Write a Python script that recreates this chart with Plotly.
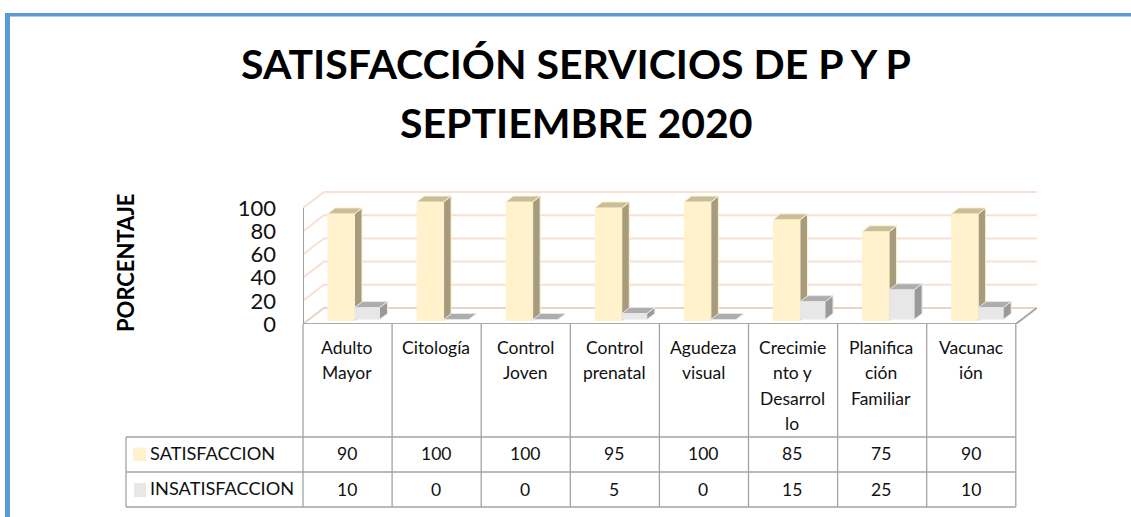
import plotly.graph_objects as go

categories = ["Adulto\nMayor", "Citología", "Control\nJoven", "Control\nprenatal", "Agudeza\nvisual",
              "Crecimie\nnto y\nDesarrol\nlo", "Planifica\nción\nFamiliar", "Vacunac\nión"]
satisfaccion = [90, 100, 100, 95, 100, 85, 75, 90]
insatisfaccion = [10, 0, 0, 5, 0, 15, 25, 10]
series_names = ["SATISFACCION", "INSATISFACCION"]
y_ticks = [0, 20, 40, 60, 80, 100]
title_lines = ["SATISFACCIÓN SERVICIOS DE P Y P", "SEPTIEMBRE 2020"]
y_title = "PORCENTAJE"

W, H = 1131, 517
FONT = "Lato"
X0, COL, N = 303.0, 89.1, len(categories)
DOM_R, DOM_T, DOM_B = 1042.0, 180.0, 324.0
FRONT_PX, BAR_PX = 1.16, 1.19
px = lambda p: p / COL
fx = lambda p: (p - X0) / COL
paper_x = lambda p: p / W
paper_y = lambda p: 1 - p / H

fig = go.Figure()
rng_x = [0, fx(DOM_R)]

# back wall and side wall grid lines
wall_dx, wall_dv = px(21), 16 / FRONT_PX
for t in y_ticks:
    fig.add_trace(go.Scatter(x=[0, wall_dx, N + wall_dx], y=[t, t + wall_dv, t + wall_dv], mode="lines",
                             line=dict(color="#E8D3C6" if t == 0 else "#F8E0D3", width=2),
                             hoverinfo="skip", cliponaxis=False))
# floor edge and axes
fig.add_trace(go.Scatter(x=[0, N, N + wall_dx], y=[0, 0, wall_dv], mode="lines",
                         line=dict(color="#A9A9A9", width=2), hoverinfo="skip", cliponaxis=False))
fig.add_trace(go.Scatter(x=[0, 0], y=[0, 100], mode="lines",
                         line=dict(color="#A0A0A0", width=2), hoverinfo="skip", cliponaxis=False))


def add_bars(values, axis, left_px, width_px, base_units, dx_px, dy_px, front, side, top, edge):
    dx, dv = px(dx_px), dy_px / BAR_PX
    x_center = [i for i in range(N)]
    off = px(left_px)
    w = px(width_px)
    shown = [v if v > 0 else None for v in values]
    fig.add_trace(go.Bar(x=x_center, y=shown, base=base_units, width=w, offset=off, marker=dict(color=front, line=dict(color=edge, width=1 if edge != front else 0)),
                         yaxis=axis, hoverinfo="skip"))
    for i, v in enumerate(values):
        l = i + off
        r = l + w
        b = base_units
        t = b + v
        if v > 0:
            fig.add_trace(go.Scatter(x=[r, r + dx, r + dx, r, r], y=[b, b + dv, t + dv, t, b], mode="lines", fill="toself",
                                     fillcolor=side, line=dict(color=edge, width=1), yaxis=axis, hoverinfo="skip"))
        fig.add_trace(go.Scatter(x=[l, r, r + dx, l + dx, l], y=[t, t, t + dv, t + dv, t], mode="lines", fill="toself",
                                 fillcolor=top, line=dict(color=edge, width=1), yaxis=axis, hoverinfo="skip"))


add_bars(satisfaccion, "y2", 24.5, 27, 0, 7.5, 6, "#FFF2CC", "#A69C7D", "#C9BE9A", "#FFF2CC")
add_bars(insatisfaccion, "y3", 51.5, 25, 1.5 / BAR_PX, 8, 6, "#E7E7E7", "#9A9A9A", "#ADADAD", "#E7E7E7")

shapes = []


def line(x0, y0, x1, y1, color="#A3A3A3", width=1.3):
    shapes.append(dict(type="line", xref="paper", yref="paper", x0=paper_x(x0), y0=paper_y(y0), x1=paper_x(x1), y1=paper_y(y1),
                       line=dict(color=color, width=width), layer="above"))


def rect(x0, y0, x1, y1, color):
    shapes.append(dict(type="rect", xref="paper", yref="paper", x0=paper_x(x0), y0=paper_y(y0), x1=paper_x(x1), y1=paper_y(y1),
                       fillcolor=color, line=dict(width=0), layer="above"))


# outer blue frame
rect(5, 13, W, 16.5, "#5B9BD5")
rect(5, 13, 10, H, "#5B9BD5")

# data table grid
T_TOP, R1, R2, R3, T_LEFT = 324, 437, 472, 507, 126
for i in range(N + 1):
    line(X0 + i * COL, T_TOP, X0 + i * COL, R3)
line(T_LEFT, R1, X0 + N * COL, R1)
line(T_LEFT, R2, X0 + N * COL, R2)
line(T_LEFT, R3, X0 + N * COL, R3)
line(T_LEFT, R1, T_LEFT, R3)
rect(133, 447.5, 146, 461, "#FFF2CC")
rect(134, 483, 146, 497, "#E7E7E7")

ann = []


def text(s, x, y, size, bold=False, anchor="center", angle=0, color="#111111"):
    ann.append(dict(text=f"<b>{s}</b>" if bold else s, x=paper_x(x), y=paper_y(y), xref="paper", yref="paper",
                    xanchor=anchor, yanchor="middle", showarrow=False, textangle=angle,
                    font=dict(family=FONT, size=size, color=color)))


text(title_lines[0], 576, 64, 41, bold=True, color="#000000")
text(title_lines[1], 576, 123, 41, bold=True, color="#000000")
text(y_title, 125, 263, 22, bold=True, angle=-90, color="#000000")
for i, c in enumerate(categories):
    cx = X0 + (i + 0.5) * COL - 0.7
    for j, part in enumerate(c.split("\n")):
        text(part, cx, 347 + j * 25.5, 17.5)
    text(str(satisfaccion[i]), cx, 453, 17.5)
    text(str(insatisfaccion[i]), cx, 489, 17.5)
text(series_names[0], 148, 453, 18.2, anchor="left")
text(series_names[1], 148, 488, 18.2, anchor="left")

hidden = dict(visible=False, domain=[1 - DOM_B / H, 1 - DOM_T / H], overlaying="y",
              range=[-(324 - 321) / BAR_PX, (321 - DOM_T) / BAR_PX], fixedrange=True)
fig.update_layout(
    width=W, height=H, autosize=False, margin=dict(l=0, r=0, t=0, b=0, autoexpand=False), paper_bgcolor="white", plot_bgcolor="rgba(0,0,0,0)",
    showlegend=False, barmode="overlay", shapes=shapes, annotations=ann,
    xaxis=dict(domain=[X0 / W, DOM_R / W], range=rng_x, visible=False, fixedrange=True),
    yaxis=dict(domain=[1 - DOM_B / H, 1 - DOM_T / H], range=[0, (DOM_B - DOM_T) / FRONT_PX], tickvals=y_ticks, ticks="",
               showgrid=False, zeroline=False, showline=False, ticklabelstandoff=26,
               tickfont=dict(family=FONT, size=22, color="#111111"), fixedrange=True),
    yaxis2=hidden,
    yaxis3=hidden,
)
fig.write_html("out.html", config=dict(displayModeBar=False),
               post_script="document.body.style.margin='0';document.body.style.overflow='hidden';")
